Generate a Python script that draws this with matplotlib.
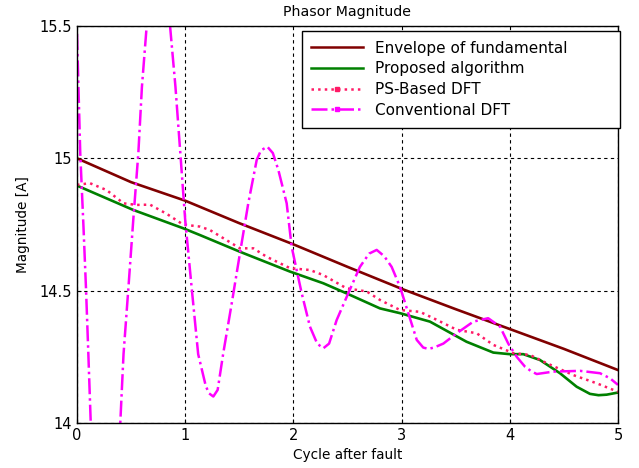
import matplotlib
matplotlib.use('Agg')
import matplotlib.pyplot as plt
from matplotlib.lines import Line2D

# envelope of the fundamental
env_x = [0, 0.5, 1.0, 1.5, 2.0, 2.5, 3.0, 3.5, 4.0, 4.5, 5.0]
env_y = [15.0, 14.91, 14.84, 14.755, 14.675, 14.59, 14.507, 14.43, 14.355, 14.28, 14.2]

# proposed algorithm
prop_x = [0, 0.52, 0.98, 1.137, 1.506, 1.969, 2.276, 2.49, 2.80, 2.985, 3.262,
          3.60, 3.848, 4.0, 4.125, 4.279, 4.464, 4.618, 4.741, 4.82, 4.896, 5.0]
prop_y = [14.897, 14.805, 14.736, 14.71, 14.647, 14.572, 14.528, 14.49, 14.433, 14.415, 14.383,
          14.307, 14.266, 14.26, 14.26, 14.238, 14.188, 14.137, 14.11, 14.105, 14.107, 14.115]

# PS-based DFT
ps_x = [0, 0.12, 0.274, 0.43, 0.55, 0.675, 0.83, 0.98, 1.137, 1.229, 1.506, 1.63, 1.753,
        1.969, 2.153, 2.276, 2.49, 2.677, 2.80, 2.985, 3.17, 3.324, 3.51, 3.694, 3.848,
        4.032, 4.187, 4.341, 4.587, 4.803, 5.0]
ps_y = [14.9, 14.906, 14.88, 14.83, 14.824, 14.825, 14.79, 14.75, 14.742, 14.729, 14.66, 14.66, 14.628,
        14.585, 14.578, 14.559, 14.509, 14.497, 14.465, 14.427, 14.42, 14.39, 14.352, 14.339, 14.295,
        14.264, 14.257, 14.226, 14.181, 14.15, 14.118]

# conventional DFT
conv_x = [0, 0.03, 0.06, 0.083, 0.105, 0.127, 0.18, 0.25, 0.32, 0.40, 0.43, 0.475, 0.52,
          0.567, 0.60, 0.644, 0.70, 0.75, 0.80, 0.86, 0.91, 0.955, 1.0, 1.06, 1.12, 1.19,
          1.22, 1.26, 1.30, 1.352, 1.43, 1.506, 1.583, 1.661, 1.70, 1.759, 1.81, 1.861, 1.938,
          1.984, 2.03, 2.077, 2.153, 2.22, 2.276, 2.33, 2.40, 2.507, 2.615, 2.70, 2.77, 2.84,
          2.908, 2.985, 3.062, 3.14, 3.20, 3.247, 3.30, 3.386, 3.51, 3.663, 3.80, 3.91, 3.986,
          4.064, 4.14, 4.20, 4.249, 4.30, 4.40, 4.649, 4.834, 4.926, 5.0]
conv_y = [15.47, 15.02, 14.74, 14.51, 14.26, 14.0, 13.82, 13.75, 13.8, 14.0, 14.26, 14.51, 14.767,
          15.02, 15.27, 15.5, 15.72, 15.78, 15.72, 15.5, 15.27, 15.02, 14.767, 14.51, 14.26, 14.14,
          14.112, 14.1, 14.125, 14.264, 14.452, 14.641, 14.83, 14.994, 15.03, 15.044, 15.02, 14.956, 14.83,
          14.666, 14.578, 14.49, 14.364, 14.30, 14.282, 14.30, 14.389, 14.49, 14.59, 14.64, 14.654, 14.63,
          14.59, 14.515, 14.415, 14.314, 14.285, 14.28, 14.285, 14.30, 14.339, 14.383, 14.396, 14.364, 14.30,
          14.25, 14.213, 14.195, 14.185, 14.188, 14.194, 14.197, 14.188, 14.169, 14.144]

labels = ['Envelope of fundamental', 'Proposed algorithm', 'PS-Based DFT', 'Conventional DFT']
c_env = '#800000'
c_prop = '#008000'
c_ps = '#ff1a66'
c_conv = '#ff00ff'

fig = plt.figure(figsize=(6.39, 4.68), dpi=100)
ax = fig.add_axes([0.1205, 0.0962, 0.8466, 0.8482])

ax.plot(env_x, env_y, color=c_env, lw=1.9)
ax.plot(prop_x, prop_y, color=c_prop, lw=1.9)
ax.plot(ps_x, ps_y, color=c_ps, lw=1.8, ls=':')
ax.plot(conv_x, conv_y, color=c_conv, lw=1.8, ls='-.')

ax.set_xlim(0, 5)
ax.set_ylim(14, 15.5)
ax.set_xticks([0, 1, 2, 3, 4, 5])
ax.set_yticks([14, 14.5, 15, 15.5])
ax.set_yticklabels(['14', '14.5', '15', '15.5'])
ax.tick_params(direction='in', length=3, labelsize=10.5, width=0.8)
ax.grid(True, color='black', ls=(0, (3, 3)), lw=0.8)
for s in ax.spines.values():
    s.set_linewidth(1.0)

ax.set_title('Phasor Magnitude', fontsize=10.2, pad=7)
ax.set_xlabel('Cycle after fault', fontsize=9.8, labelpad=4)
ax.set_ylabel('Magnitude [A]', fontsize=9.8, labelpad=7)

handles = [
    Line2D([], [], color=c_env, lw=1.8),
    Line2D([], [], color=c_prop, lw=1.8),
    Line2D([], [], color=c_ps, lw=1.8, ls=':', marker='s', markersize=3, markevery=[1]),
    Line2D([], [], color=c_conv, lw=1.8, ls='-.', marker='s', markersize=3, markevery=[1]),
]
leg = ax.legend(handles, labels, loc='upper left', bbox_to_anchor=(0.415, 0.988, 0.589, 0),
                mode='expand', fontsize=11, frameon=True, fancybox=False, edgecolor='black',
                framealpha=1, labelspacing=0.37, handlelength=3.4, handletextpad=0.75,
                borderpad=0.65, borderaxespad=0)
leg.get_frame().set_linewidth(1.0)
leg.set_zorder(5)

fig.savefig('out.png', dpi=100)
